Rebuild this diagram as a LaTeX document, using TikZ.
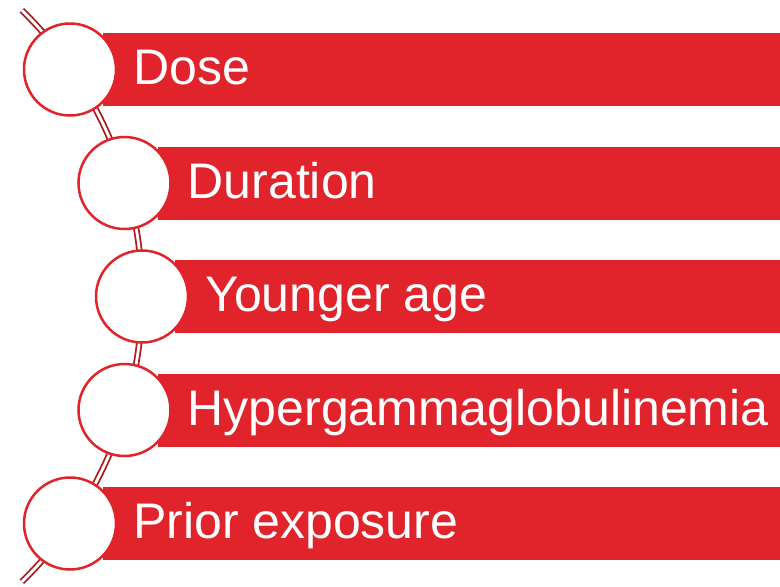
\documentclass[tikz,border=0pt]{standalone}
\usepackage{fontspec}
\setmainfont{Liberation Sans}
\definecolor{barred}{RGB}{225,35,43}
\definecolor{spine}{RGB}{170,28,34}
\begin{document}
\begin{tikzpicture}[x=1pt,y=-1pt,
  spineline/.style={draw=spine,line width=1.8pt,double=white,double distance=2.8pt},
  barbox/.style={fill=barred,draw=none,anchor=west,minimum height=73pt,inner sep=0pt},
  ring/.style={circle,draw=barred,line width=2.5pt,fill=white,minimum size=92pt,inner sep=0pt},
  lbl/.style={anchor=base west,text=white,font=\fontsize{50}{60}\selectfont,inner sep=0pt}]
\useasboundingbox (0,0) rectangle (780,587);
% spine arc
\coordinate (sc) at (-258,296);
\draw[spineline] ([shift={(-45.6:400)}]sc) arc[start angle=-45.6,end angle=45.6,radius=400];
% bars
\foreach \i/\x/\w in {1/70/677,2/124.5/622.5,3/142/605,4/124.5/622.5,5/70/677}{
  \node[barbox,minimum width=\w pt] (bar\i) at (\x+33,{69.5+113.5*(\i-1)}) {};
}
% circles
\foreach \i/\x in {1/70,2/124.5,3/142,4/124.5,5/70}{
  \node[ring] (c\i) at (\x,{69.5+113.5*(\i-1)}) {};
}
% labels
\node[lbl] (t1) at (133,84.5) {Dose};
\node[lbl] (t2) at (187.5,198) {Duration};
\node[lbl] (t3) at (205,311.5) {Younger age};
\node[lbl] (t4) at (187.5,425) {Hypergammaglobulinemia};
\node[lbl] (t5) at (133,538.5) {Prior exposure};
\end{tikzpicture}
\end{document}
